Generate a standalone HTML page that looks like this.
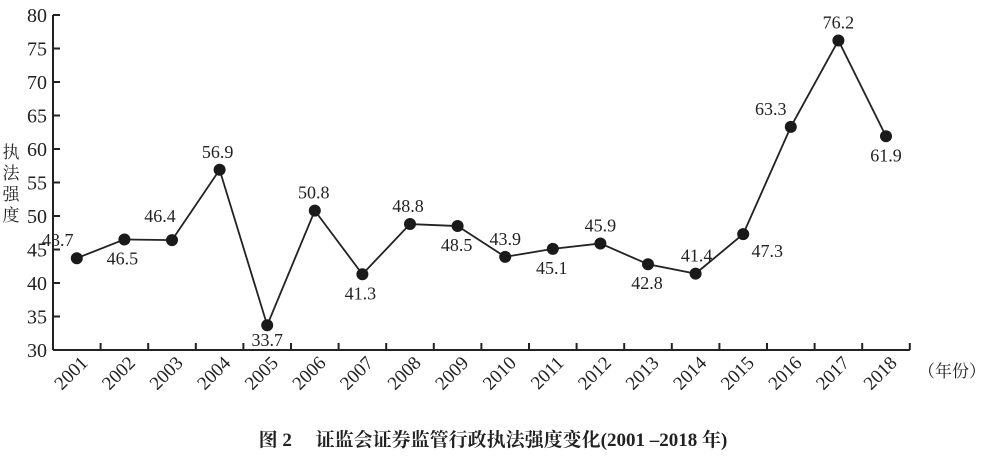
<!DOCTYPE html>
<html><head><meta charset="utf-8"><style>
body{margin:0;background:#fff;}
svg text{font-family:"Liberation Serif","Noto Serif CJK SC",serif;fill:#222;}
</style></head><body>
<svg width="987" height="458">
<g id="g"></g>
</svg>
<script>
const years=["2001","2002","2003","2004","2005","2006","2007","2008","2009","2010","2011","2012","2013","2014","2015","2016","2017","2018"];
const values=[43.7,46.5,46.4,56.9,33.7,50.8,41.3,48.8,48.5,43.9,45.1,45.9,42.8,41.4,47.3,63.3,76.2,61.9];
const labelAbove=[1,0,1,1,0,1,0,1,0,1,0,1,0,1,0,1,1,0];
const yTicks=[30,35,40,45,50,55,60,65,70,75,80];
// label style offsets (pixels), not data
const labelDx=[-19,-2,-12,-2,0,-1,-2,-2,-1,0,-1,0,-1,1,24,-20,0,0];
const labelDy=[0,0,-6,0,-4,0,0,0,0,0,0,0,0,0,-2,0,0,0];
const g=document.getElementById('g');
const NS='http://www.w3.org/2000/svg';
const x0=53,bw=47.6,yBase=350,py=6.7;
const X=i=>x0+bw*(i+0.5);
const Y=v=>yBase-(v-30)*py;
function mk(t,a){const e=document.createElementNS(NS,t);for(const k in a)e.setAttribute(k,a[k]);g.appendChild(e);return e;}
let e;
e=mk('line',{x1:x0,y1:Y(80),x2:x0,y2:yBase,stroke:'#222','stroke-width':2});


e=mk('line',{x1:x0,y1:yBase,x2:x0+bw*years.length,y2:yBase,stroke:'#222','stroke-width':2});


yTicks.forEach(v=>{
 e=mk('line',{x1:x0,y1:Y(v),x2:x0+7,y2:Y(v),stroke:'#222','stroke-width':2});
 
 
 e=mk('text',{x:x0-6,y:Y(v)+7,'text-anchor':'end','font-size':20});
 e.textContent=v;
 
 
});
years.forEach((yr,i)=>{
 const bx=x0+bw*(i+1);
 e=mk('line',{x1:bx,y1:yBase,x2:bx,y2:yBase-7,stroke:'#222','stroke-width':2});
 
 
 e=mk('text',{x:X(i)+12,y:yBase+14,'text-anchor':'end','font-size':19,transform:`rotate(-45 ${X(i)+12} ${yBase+14})`});
 e.textContent=yr;
 
 
});
e=mk('polyline',{points:values.map((v,i)=>X(i)+','+Y(v)).join(' '),fill:'none',stroke:'#222','stroke-width':1.8});


values.forEach((v,i)=>{
 e=mk('circle',{cx:X(i),cy:Y(v),r:6,fill:'#1a1a1a'});
 
 
 e=mk('text',{x:X(i)+labelDx[i],y:(labelAbove[i]?Y(v)-12:Y(v)+25)+labelDy[i],'text-anchor':'middle','font-size':18});
 e.textContent=v.toFixed(1);
 
 
});
['执','法','强','度'].forEach((c,i)=>{
 e=mk('text',{x:11,y:158+i*21,'text-anchor':'middle','font-size':17});
 e.textContent=c;
 
 
});
e=mk('text',{x:918,y:377,'font-size':17});
e.textContent='（年份）';


e=mk('text',{x:493,y:446,'text-anchor':'middle','font-size':19,'font-weight':'bold'});
e.textContent='图 2　 证监会证券监管行政执法强度变化(2001 –2018 年)';


</script>
</body></html>
